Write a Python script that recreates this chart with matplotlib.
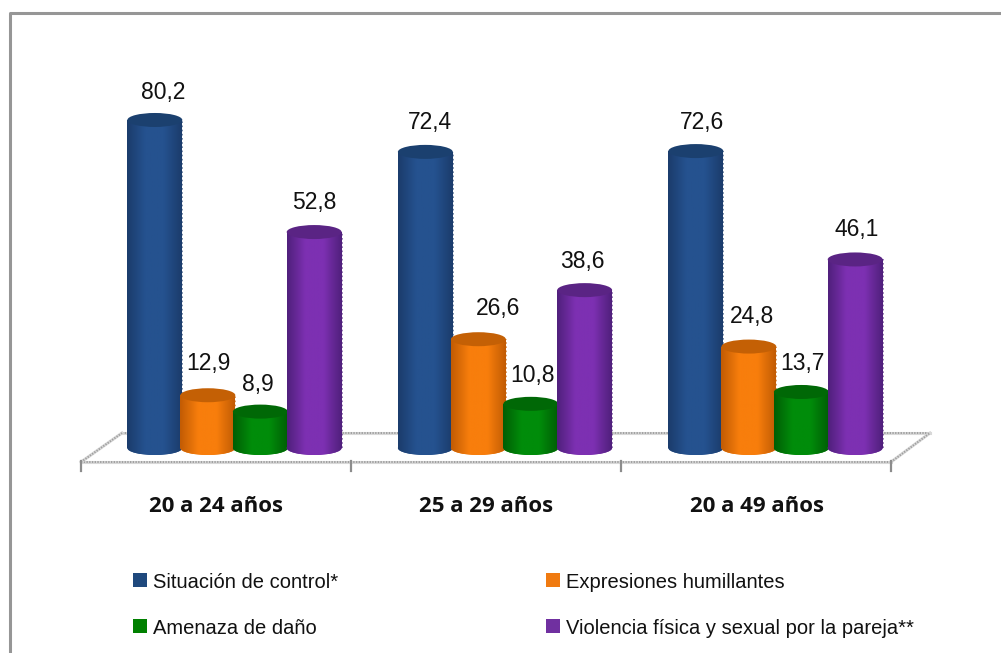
import numpy as np
import matplotlib
matplotlib.use("Agg")
import matplotlib.pyplot as plt
from matplotlib.patches import Ellipse, Rectangle
from matplotlib.transforms import Affine2D
from matplotlib.colors import LinearSegmentedColormap

# data
groups = ["20 a 24 años", "25 a 29 años", "20 a 49 años"]
control = [80.2, 72.4, 72.6]
humillantes = [12.9, 26.6, 24.8]
amenaza = [8.9, 10.8, 13.7]
violencia = [52.8, 38.6, 46.1]
names = ["Situación de control*", "Expresiones humillantes",
         "Amenaza de daño", "Violencia física y sexual por la pareja**"]

# edge, middle, cap colours per series
colors = [("#1b3c6c", "#25528f", "#1b406f"),
          ("#c25c04", "#f87e0c", "#c46005"),
          ("#005f05", "#008c0a", "#006806"),
          ("#50207c", "#7d30b2", "#5a2484")]
legend_colors = ["#1f497d", "#f07a10", "#008000", "#7030a0"]

W, H = 1001, 653
PX_GROUP = 270.5   # px from one group to the next
PX_UNIT = 4.09     # px per percent
X0, Y0 = 234.5, 448

fig = plt.figure(figsize=(W / 100, H / 100), dpi=100, facecolor="white")
ax = fig.add_axes([0, 0, 1, 1])
ax.set_xlim(-X0 / PX_GROUP, (W - X0) / PX_GROUP)
ax.set_ylim((Y0 - H) / PX_UNIT, Y0 / PX_UNIT)
ax.axis("off")

# pixel coords, y going down, for frame, floor and legend
px = Affine2D().scale(1, -1).translate(0, H)

# frame, no right side in the original crop
fig.add_artist(plt.Line2D([9.5, 9.5, W], [H, 13, 13], color="#969696", lw=2.2,
                          transform=px))

# floor of the 3d chart
def floor(xs, ys):
    ax.plot(xs, ys, color="#d8d8d8", lw=2.2, transform=px, zorder=1)
    ax.plot(xs, ys, color="#a0a0a0", lw=1.4, ls=(0, (0.7, 0.7)), transform=px, zorder=1)

floor([81, 891], [462, 462])
floor([122, 930], [433, 433])
floor([81, 122], [462, 433])
floor([891, 930], [462, 433])
for tx in [81, 351, 621, 891]:
    ax.plot([tx, tx], [461, 471], color="#8c8c8c", lw=1.6, transform=px, zorder=1)

# cylinders
series = [control, humillantes, amenaza, violencia]
offsets = [-0.2945, -0.0985, 0.0955, 0.2945]
bar_w = 0.203
cap_h = 14 / PX_UNIT

for g in range(len(groups)):
    for s, vals in enumerate(series):
        v = vals[g]
        x = g + offsets[s]
        edge, mid, cap = colors[s]
        z = 3 + s + g * 10
        cmap = LinearSegmentedColormap.from_list("c", [edge, mid, mid, edge])
        grad = np.linspace(0, 1, 64).reshape(1, -1)
        body = ax.bar(x, v, bar_w, color=mid, zorder=z)[0]
        bottom = Ellipse((x, 0), bar_w, cap_h, facecolor=mid, edgecolor="none", zorder=z)
        ax.add_patch(bottom)
        for clip in (body, bottom):
            im = ax.imshow(grad, cmap=cmap, aspect="auto", zorder=z + 0.1,
                           extent=(x - bar_w / 2, x + bar_w / 2, -cap_h, v))
            im.set_clip_path(clip)
        top = Ellipse((x, v), bar_w, cap_h, facecolor=cap, edgecolor="none", zorder=z + 0.2)
        ax.add_patch(top)
        # jagged right side of the low-res original
        ax.plot([x + bar_w / 2] * 2, [0, v], color=edge, lw=1.2, ls=(0, (1, 1.5)),
                zorder=z + 0.15, alpha=0.7)

# imshow resets the limits
ax.set_xlim(-X0 / PX_GROUP, (W - X0) / PX_GROUP)
ax.set_ylim((Y0 - H) / PX_UNIT, Y0 / PX_UNIT)

# value labels, px offset from the top of each bar
label_dx = [[8, 1, -2, 0], [5, 20, 2, -2], [6, 3, 1, 2]]
label_up = [[27, 32, 27, 30], [29, 31, 28, 29], [29, 30, 28, 30]]
for g in range(len(groups)):
    for s, vals in enumerate(series):
        ax.annotate(str(vals[g]).replace(".", ","), (g + offsets[s], vals[g]),
                    xytext=(label_dx[g][s] * 0.72, label_up[g][s] * 0.72),
                    textcoords="offset points", ha="center", va="center",
                    family="Liberation Sans", fontsize=16.5, color="#111111",
                    zorder=100)

# category labels
for g, name in enumerate(groups):
    ax.text(216 + g * PX_GROUP, 507, name, transform=px, ha="center", va="center",
            family="Open Sans", fontweight="bold", fontsize=16, color="#111111")

# legend
legend_x = [133, 546, 133, 546]
legend_y = [581, 581, 627, 627]
for name, c, lx, ly in zip(names, legend_colors, legend_x, legend_y):
    ax.add_patch(Rectangle((lx, ly - 8), 13.5, 14, facecolor=c, edgecolor="none", transform=px))
    ax.text(lx + 20, ly + 1.5, name, transform=px, ha="left", va="center",
            family="Liberation Sans", fontsize=14.5, color="#111111")

fig.savefig("out.png", dpi=100)
